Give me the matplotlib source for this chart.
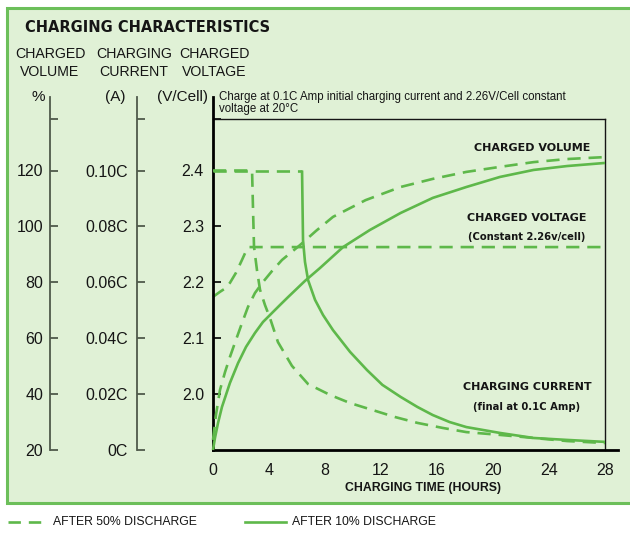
import matplotlib.pyplot as plt
from matplotlib.patches import Rectangle
from matplotlib.lines import Line2D

# ---- data ----
hours_ticks = [0, 4, 8, 12, 16, 20, 24, 28]

# charged volume (%)
vol50_t = [0, 0.21, 0.5, 0.86, 1.21, 1.64, 2.07, 2.5, 3.0, 3.57, 4.21, 4.93, 6.21, 7.36,
           8.57, 10.9, 13.4, 15.7, 18.1, 20.5, 22.9, 25.3, 28]
vol50_v = [23.6, 32.5, 41.5, 47.9, 53.3, 59.4, 65.4, 71.2, 76.2, 80.1, 84.0, 88.0, 93.3, 98.4,
           103.4, 109.4, 114.1, 117.0, 119.5, 121.3, 123.0, 124.1, 124.8]
vol10_t = [0, 0.14, 0.36, 0.64, 1.21, 1.79, 2.36, 3.0, 3.57, 4.21, 4.79, 5.36, 6.57, 7.64,
           9.29, 11.2, 13.4, 15.7, 18.1, 20.5, 22.9, 25.3, 28]
vol10_v = [20, 24.3, 29.7, 35.4, 44.0, 51.1, 56.9, 61.9, 65.8, 69.0, 71.9, 74.7, 80.5, 85.1,
           92.6, 98.7, 104.8, 110.2, 114.1, 117.7, 120.2, 121.6, 122.7]

# charged voltage (V/cell), 50% discharge
volt50_t = [0, 0.5, 0.93, 1.21, 1.64, 2.07, 2.36, 2.57, 28]
volt50_v = [2.174, 2.183, 2.190, 2.199, 2.217, 2.240, 2.256, 2.263, 2.263]

# charging current (A, in C)
cur50_t = [0, 2.79, 2.86, 2.93, 3.14, 3.36, 3.71, 4.07, 4.64, 5.64, 6.79, 8.36, 9.79, 11.4,
           13.0, 14.6, 16.4, 18.1, 20.5, 22.9, 25.3, 28]
cur50_i = [0.100, 0.100, 0.0859, 0.0727, 0.0644, 0.0573, 0.0519, 0.0472, 0.0386, 0.0301,
           0.0236, 0.0197, 0.0168, 0.0143, 0.0118, 0.0097, 0.0079, 0.0064, 0.0054, 0.0043,
           0.0032, 0.0025]
cur10_flat_t = [0, 6.36]
cur10_flat_i = [0.100, 0.100]
cur10_t = [6.36, 6.39, 6.43, 6.57, 6.79, 7.29, 7.86, 8.57, 9.79, 11.0, 12.1, 13.4, 14.6,
           15.7, 16.9, 18.1, 20.5, 22.9, 25.3, 28]
cur10_i = [0.100, 0.0894, 0.0751, 0.0673, 0.0608, 0.0537, 0.0483, 0.0429, 0.0351, 0.0286,
           0.0233, 0.019, 0.0154, 0.0125, 0.0100, 0.0082, 0.0061, 0.0043, 0.0036, 0.0029]

vol_ticks = [20, 40, 60, 80, 100, 120]
cur_ticks = [0, 0.02, 0.04, 0.06, 0.08, 0.10]
cur_labels = ['0C', '0.02C', '0.04C', '0.06C', '0.08C', '0.10C']
volt_ticks = [2.0, 2.1, 2.2, 2.3, 2.4]

# ---- style ----
W, H = 630, 542
BG = '#e0f1d6'
BORDER = '#6cbf5a'
LINE = '#5eb84a'
INK = '#151515'
AXC = '#4f5a4b'
NARROW = dict(family=['Liberation Sans Narrow', 'Liberation Sans', 'DejaVu Sans'],
              stretch='condensed')
DASH = (5, 3)
LW = 1.9
TICKFS = 11.5


def fx(x):
    return x / W


def fy(y):
    return 1 - y / H


fig = plt.figure(figsize=(W / 100, H / 100), dpi=100)
fig.patch.set_facecolor('white')
fig.patches.append(Rectangle((fx(7), fy(503)), fx(640 - 7), (503 - 8) / H,
                             transform=fig.transFigure, facecolor=BG,
                             edgecolor=BORDER, linewidth=2.2, zorder=-5))

# axes box: x 0 h at px 213, bottom px 450, top px 97
x_hi = (618 - 213) / 14.0
top_px, box_px = 97, 119
px_per_vol = 2.795
vol_hi = 20 + (450 - top_px) / px_per_vol
vol_box = 20 + (450 - box_px) / px_per_vol

ax = fig.add_axes([fx(213), fy(450), fx(618 - 213), (450 - top_px) / H])
ax.patch.set_alpha(0)
ax.set_xlim(0, x_hi)
ax.set_ylim(1.9, 1.9 + (vol_hi - 20) * 0.005)
for s in ['top', 'right']:
    ax.spines[s].set_visible(False)
ax.spines['left'].set_linewidth(2.0)
ax.spines['bottom'].set_linewidth(2.0)
ax.set_xticks(hours_ticks)
ax.set_xticklabels([str(h) for h in hours_ticks], fontsize=TICKFS, color=INK, **NARROW)
ax.tick_params(axis='x', length=0, pad=9.5)
volt_box = 1.9 + (vol_box - 20) * 0.005
ax.set_yticks(volt_ticks + [volt_box])
ax.set_yticklabels(['%.1f' % v for v in volt_ticks] + [''], fontsize=TICKFS, color=INK, **NARROW)
ax.tick_params(axis='y', direction='in', length=6, width=1.2, pad=6.5)

# box lines
ax.plot([0, 28], [volt_box, volt_box], color=INK, lw=1.0, clip_on=False)
ax.plot([28, 28], [1.9, volt_box], color=INK, lw=1.0, clip_on=False)


def side_axis(offset_px, lo, hi):
    a = ax.twinx()
    a.patch.set_alpha(0)
    a.set_ylim(lo, hi)
    for s in ['top', 'right', 'bottom']:
        a.spines[s].set_visible(False)
    a.spines['left'].set_visible(True)
    a.spines['left'].set_position(('outward', offset_px * 0.72))
    a.spines['left'].set_color(AXC)
    a.spines['left'].set_linewidth(1.3)
    a.yaxis.set_ticks_position('left')
    a.yaxis.set_label_position('left')
    a.tick_params(axis='y', direction='in', length=6, width=1.3, color=AXC)
    return a


ax_vol = side_axis(163, 20, vol_hi)
ax_vol.set_yticks(vol_ticks + [vol_box])
ax_vol.set_yticklabels([str(v) for v in vol_ticks] + [''], fontsize=TICKFS, color=INK, **NARROW)
ax_vol.tick_params(axis='y', pad=5)

cur_hi = (vol_hi - 20) * 0.001
cur_box = (vol_box - 20) * 0.001
ax_cur = side_axis(76, 0, cur_hi)
ax_cur.set_yticks(cur_ticks + [cur_box])
ax_cur.set_yticklabels(cur_labels + [''], fontsize=TICKFS, color=INK, **NARROW)
ax_cur.tick_params(axis='y', pad=6.5)

# curves
kw = dict(color=LINE, lw=LW, solid_capstyle='butt', solid_joinstyle='round', clip_on=False)
ax_vol.plot(vol50_t, vol50_v, dashes=DASH, **kw)
ax_vol.plot(vol10_t, vol10_v, **kw)
ax.plot(volt50_t, volt50_v, dashes=DASH, **kw)
ax_cur.plot(cur50_t, cur50_i, dashes=DASH, **kw)
ax_cur.plot(cur10_flat_t, cur10_flat_i, dashes=DASH, **kw)
ax_cur.plot(cur10_t, cur10_i, **kw)

# texts
fig.text(fx(25), fy(28), 'CHARGING CHARACTERISTICS', fontsize=10.5, fontweight='bold',
         color=INK, va='center', ha='left')
for xc, head in [(50, 'CHARGED\nVOLUME'), (134, 'CHARGING\nCURRENT'), (214, 'CHARGED\nVOLTAGE')]:
    fig.text(fx(xc), fy(63), head, fontsize=10.2, color=INK,
             ha='center', va='center', linespacing=1.35, **NARROW)
fig.text(fx(38), fy(97), '%', fontsize=11, color=INK, ha='center', va='center', **NARROW)
fig.text(fx(126), fy(97), '(A)', fontsize=11, color=INK, ha='right', va='center', **NARROW)
fig.text(fx(208), fy(97), '(V/Cell)', fontsize=11, color=INK, ha='right', va='center', **NARROW)
fig.text(fx(219), fy(103),
         'Charge at 0.1C Amp initial charging current and 2.26V/Cell constant\nvoltage at 20°C',
         fontsize=8.3, color=INK, ha='left', va='center', linespacing=1.05, **NARROW)

lab = dict(fontsize=8, fontweight='bold', color=INK, ha='center', va='center')
fig.text(fx(532), fy(148), 'CHARGED VOLUME', **lab)
fig.text(fx(527), fy(218), 'CHARGED VOLTAGE', **lab)
fig.text(fx(527), fy(237), '(Constant 2.26v/cell)', fontsize=7.2, fontweight='bold',
         color=INK, ha='center', va='center')
fig.text(fx(527), fy(387), 'CHARGING CURRENT', **lab)
fig.text(fx(527), fy(407), '(final at 0.1C Amp)', fontsize=7.2, fontweight='bold',
         color=INK, ha='center', va='center')
fig.text(fx(423), fy(488), 'CHARGING TIME (HOURS)', fontsize=8.8,
         fontweight='bold', color=INK, ha='center', va='center', **NARROW)

# legend
fig.lines.append(Line2D([fx(8), fx(42)], [fy(522), fy(522)], transform=fig.transFigure,
                        color=LINE, lw=LW, dashes=(4.7, 3.0)))
fig.text(fx(53), fy(522), 'AFTER 50% DISCHARGE', fontsize=8.8,
         color=INK, ha='left', va='center', **NARROW)
fig.lines.append(Line2D([fx(245), fx(286)], [fy(522), fy(522)], transform=fig.transFigure,
                        color=LINE, lw=LW))
fig.text(fx(292), fy(522), 'AFTER 10% DISCHARGE', fontsize=8.8,
         color=INK, ha='left', va='center', **NARROW)

fig.savefig('out.png', dpi=100, facecolor='white')
